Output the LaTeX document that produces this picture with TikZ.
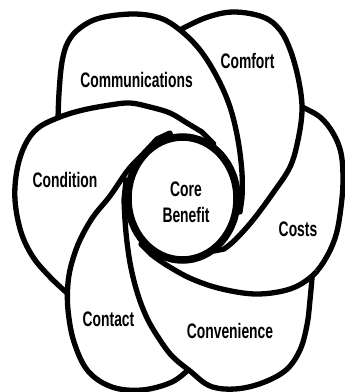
\documentclass[tikz,border=0pt]{standalone}
\usepackage{fontspec}
\newfontfamily\petalfont{Liberation Sans}[FakeStretch=0.66]

\tikzset{
  petal/.style={draw=black, fill=white, line width=5.3pt, line join=round},
  core/.style={draw=black, fill=white, line width=7.5pt},
  petaltext/.style={font=\petalfont\bfseries\fontsize{21}{26}\selectfont, inner sep=0pt, anchor=base},
}

% outlines of the six petals: the outer part is smooth, the part that
% runs under the next petal or under the core is a plain polyline
\newcommand\costspath{plot[smooth, tension=0.6] coordinates {(302,107) (320,117) (333,133) (341,153) (343,180) (341,207) (336,235) (326,258) (312,276) (290,289) (257,294) (222,289) (192,279) (168,266) (152,255)}
  -- (141,244) -- (182.5,198.5) -- (236,180) -- (262,150) -- (285,125) -- (298,110) -- cycle}
\newcommand\comfortpath{plot[smooth, tension=0.6] coordinates {(178,31) (205,18) (233,12) (263,17) (280,30) (291,52) (299,82) (302,110) (298,140) (290,167) (273,193) (253,220) (235,240) (224,249)}
  -- (214,251) -- (182.5,198.5) -- (203,140) -- (200,120) -- (185,80) -- (175,45) -- cycle}
\newcommand\commspath{plot[smooth, tension=0.6] coordinates {(58,120) (59,93) (62,62) (68,42) (80,28) (100,18) (133,14) (160,18) (180,30) (200,50) (217,77) (230,107) (238,140) (242,173) (242,198)}
  -- (240,212) -- (182.5,198.5) -- (163,140) -- (140,128) -- (110,124) -- (80,125) -- (63,128) -- cycle}
\newcommand\conditionpath{plot[smooth, tension=0.6] coordinates {(67,293) (50,277) (33,257) (21,232) (15,200) (17,170) (25,145) (38,128) (60,117) (83,110) (110,105) (130,103) (150,107) (170,113) (187,123) (202,132)}
  -- (214,144) -- (182.5,198.5) -- (135,215) -- (110,250) -- (90,280) -- (75,300) -- cycle}
\newcommand\contactpath{plot[smooth, tension=0.6] coordinates {(190,368) (172,382) (142,390) (112,387) (88,371) (74,342) (68,310) (68,283) (72,262) (80,240) (93,217) (110,196) (128,170) (144,153) (157,139)}
  -- (170,133) -- (182.5,198.5) -- (150,250) -- (160,290) -- (170,330) -- (185,355) -- cycle}
\newcommand\conveniencepath{plot[smooth, tension=0.6] coordinates {(312,278) (310,300) (307,325) (300,350) (286,370) (262,383) (235,389) (210,386) (190,371) (172,356) (158,337) (147,318) (138,295) (131,268) (127,242) (125,220) (124,200)}
  -- (126,180) -- (182.5,198.5) -- (186,260) -- (205,266) -- (230,270) -- (260,273) -- (290,276) -- cycle}

\begin{document}
\begin{tikzpicture}[x=1pt, y=-1pt]
  \useasboundingbox (0,0) rectangle (345,392);

  % petals, each one lying over the one clockwise of it
  \filldraw[petal] \costspath;
  \filldraw[petal] \comfortpath;
  \filldraw[petal] \commspath;
  \filldraw[petal] \conditionpath;
  \filldraw[petal] \contactpath;
  \filldraw[petal] \conveniencepath;

  % close the ring: costs goes back over convenience
  \begin{scope}
    \clip (110,225) -- (190,225) -- (205,252) -- (215,258) -- (240,262) -- (300,267)
      -- (318,271) -- (350,288) -- (350,400) -- (110,400) -- cycle;
    \filldraw[petal] \costspath;
  \end{scope}

  % core in the middle
  \filldraw[core] (182.5,198.5) ellipse [x radius=54.5, y radius=61.5];

  \node[petaltext] (communications) at (136.5,87) {Communications};
  \node[petaltext] (comfort) at (247.5,68) {Comfort};
  \node[petaltext] (condition) at (65,187) {Condition};
  \node[petaltext] (costs) at (298,236.5) {Costs};
  \node[petaltext] (contact) at (108.5,326.5) {Contact};
  \node[petaltext] (convenience) at (230,338) {Convenience};
  \node[petaltext, align=center] (core) at (186,222) {Core\\Benefit};
\end{tikzpicture}
\end{document}
